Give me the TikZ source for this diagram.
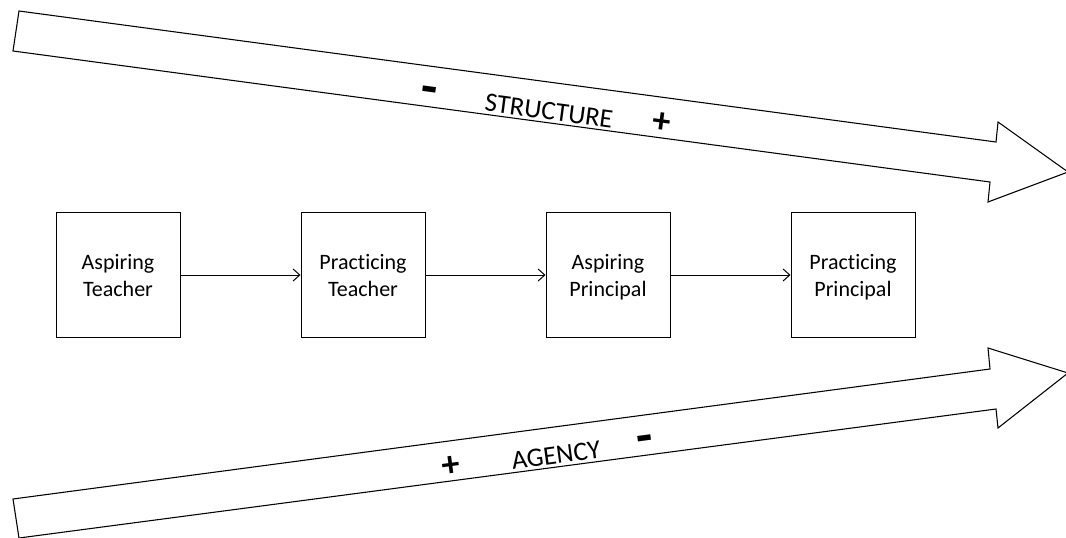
\documentclass[tikz,border=0pt]{standalone}
\usepackage{fontspec}
\setmainfont{Carlito}[RawFeature={-liga}]
\usetikzlibrary{arrows.meta}
% strut that fixes the baselines of the two-line stage labels
\newcommand\rowstrut{\rule[-1.75pt]{0pt}{16pt}}
\begin{document}
\begin{tikzpicture}[x=0.75pt,y=-0.75pt,
  stage/.style={draw, line width=0.75pt, minimum width=93pt, minimum height=93pt,
    align=center, inner sep=0pt, font=\fontsize{16.5}{20.25}\selectfont},
  flow/.style={draw, line width=0.75pt, -{Straight Barb[length=5pt,width=9pt]}},
  bigarrow/.style={draw, line width=0.8pt, fill=white, line join=miter},
  axislabel/.style={font=\fontsize{20}{24}\selectfont, inner sep=0pt},
  plussign/.style={font=\fontsize{27}{30}\bfseries, inner sep=0pt},
  minussign/.style={font=\fontsize{40}{42}\bfseries, inner sep=0pt}]
\useasboundingbox (0,0) rectangle (1066,538);

% upper arrow: structure
\draw[bigarrow] (19,11) -- (996,142) -- (998,122) -- (1068,172) -- (988,202) -- (990,182) -- (13,51) -- cycle;
\node[minussign, rotate=-7.6] (sminus) at (429,96) {-};
\node[axislabel, rotate=-7.6] (structure) at (549,111) {STRUCTURE};
\node[plussign, rotate=-7.6] (splus) at (662,123) {+};

% lower arrow: agency
\draw[bigarrow] (13,499) -- (990,369) -- (988,348) -- (1068,373) -- (998,428) -- (996,409) -- (19,538) -- cycle;
\node[plussign, rotate=7.6] (aplus) at (451,466) {+};
\node[axislabel, rotate=7.6] (agency) at (556,455) {AGENCY};
\node[minussign, rotate=7.6] (aminus) at (645,445) {-};

% career stages
\node[stage] (at) at (118,275) {\rowstrut Aspiring\\\rowstrut Teacher};
\node[stage] (pt) at (363,275) {\rowstrut Practicing\\\rowstrut Teacher};
\node[stage] (ap) at (608,275) {\rowstrut Aspiring\\\rowstrut Principal};
\node[stage] (pp) at (853,275) {\rowstrut Practicing\\\rowstrut Principal};

\draw[flow] (at) -- (pt);
\draw[flow] (pt) -- (ap);
\draw[flow] (ap) -- (pp);
\end{tikzpicture}
\end{document}
